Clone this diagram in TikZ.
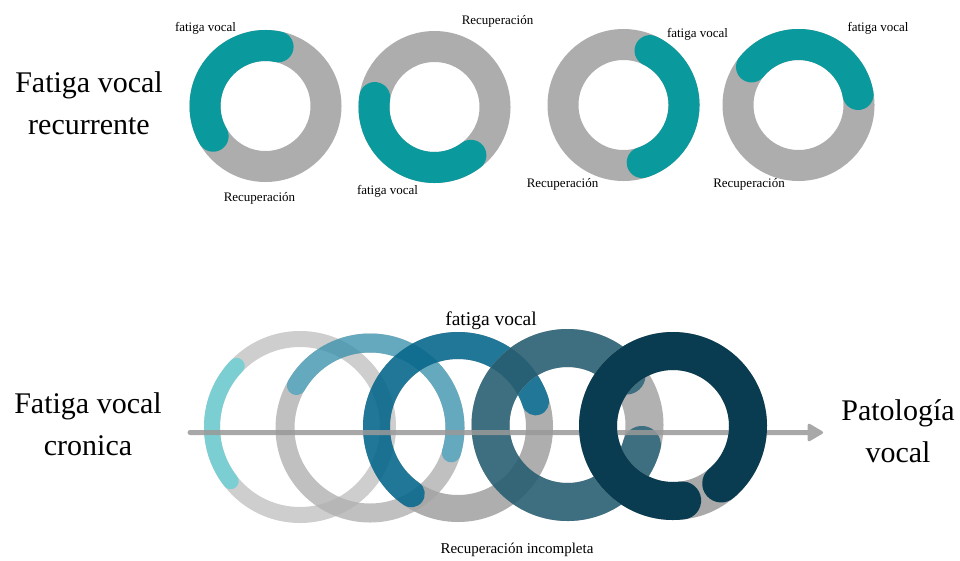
\documentclass[tikz,border=0pt]{standalone}
\usepackage{fontspec}
\setmainfont{Liberation Serif}
\usetikzlibrary{arrows.meta}

\definecolor{cyclegray}{HTML}{ADADAD}
\definecolor{cycleteal}{HTML}{0A9A9D}
\definecolor{oneGray}{HTML}{BDBDBD}
\definecolor{oneCyan}{HTML}{4FBFC4}
\definecolor{twoGray}{HTML}{B0B0B0}
\definecolor{twoTeal}{HTML}{3D93AD}
\definecolor{threeGray}{HTML}{A5A5A5}
\definecolor{threeBlue}{HTML}{08688C}
\definecolor{fourGray}{HTML}{A8A8A8}
\definecolor{fourSlate}{HTML}{285F72}
\definecolor{fiveGray}{HTML}{A9A9A9}
\definecolor{fiveNavy}{HTML}{0A3C51}
\definecolor{flowGray}{HTML}{999999}

\begin{document}
\begin{tikzpicture}[x=1pt,y=1pt,
  cyclering/.style={draw=cyclegray,line width=31pt},
  fatiguearc/.style={draw=cycleteal,line width=31pt,line cap=round},
  smalllbl/.style={font=\fontsize{13}{15}\selectfont,anchor=base,inner sep=0pt},
  % the base anchor of a two-line node sits on its last line
  biglbl/.style={font=\fontsize{30}{41.5}\selectfont,align=center,anchor=base,inner sep=0pt},
  flowarrow/.style={draw=flowGray,line width=5pt,line cap=round,line join=round,
    -{Triangle[length=17pt,width=19pt,line width=3pt,round]}}
]
\useasboundingbox (0,-560) rectangle (960,0);

% ---------- recurrent fatigue: four separate cycles ----------
\coordinate (t1) at (265.5,-106);
\coordinate (t2) at (434.5,-107);
\coordinate (t3) at (623.5,-105);
\coordinate (t4) at (798.5,-105);
\foreach \c in {t1,t2,t3,t4}
  \draw[cyclering] (\c) circle[radius=60.5];
\draw[fatiguearc] (t1) ++(78:60.5) arc[start angle=78,end angle=210,radius=60.5];
\draw[fatiguearc] (t2) ++(171:60.5) arc[start angle=171,end angle=307,radius=60.5];
\draw[fatiguearc] (t3) ++(-72:60.5) arc[start angle=-72,end angle=64,radius=60.5];
\draw[fatiguearc] (t4) ++(10:60.5) arc[start angle=10,end angle=141,radius=60.5];

\node[smalllbl] (f1) at (205.5,-31) {fatiga vocal};
\node[smalllbl] (r1) at (259.5,-201) {Recuperación};
\node[smalllbl] (r2) at (497.5,-24) {Recuperación};
\node[smalllbl] (f2) at (387.5,-194) {fatiga vocal};
\node[smalllbl] (f3) at (697.5,-37) {fatiga vocal};
\node[smalllbl] (r3) at (562.5,-187) {Recuperación};
\node[smalllbl] (f4) at (878,-31) {fatiga vocal};
\node[smalllbl] (r4) at (749,-187) {Recuperación};

\node[biglbl] (rec) at (89,-134) {Fatiga vocal\\recurrente};

% ---------- chronic fatigue: overlapping cycles ----------
\coordinate (b1) at (300,-427);
\coordinate (b2) at (370,-428);
\coordinate (b3) at (458,-427);
\coordinate (b4) at (567.5,-425);
\coordinate (b5) at (673,-426);

\begin{scope}[transparency group,opacity=0.75]
  \draw[oneGray,line width=16pt] (b1) circle[radius=88];
  \draw[oneCyan,line width=16pt,line cap=round] (b1) ++(136:88) arc[start angle=136,end angle=218,radius=88];
\end{scope}
\begin{scope}[transparency group,opacity=0.8]
  \draw[twoGray,line width=19pt] (b2) circle[radius=85];
  \draw[twoTeal,line width=19pt,line cap=round] (b2) ++(150:85) arc[start angle=150,end angle=-17,radius=85];
\end{scope}
\begin{scope}[transparency group,opacity=0.9]
  \draw[threeGray,line width=27pt] (b3) circle[radius=81.5];
  \draw[threeBlue,line width=27pt,line cap=round] (b3) ++(235:81.5) arc[start angle=235,end angle=18,radius=81.5];
\end{scope}
\begin{scope}[transparency group,opacity=0.9]
  \draw[fourGray,line width=38pt] (b4) circle[radius=77];
  \draw[fourSlate,line width=38pt,line cap=round] (b4) ++(40:77) arc[start angle=40,end angle=345,radius=77];
\end{scope}

% time axis towards pathology, under the last cycle
\coordinate (arrstart) at (190,-432.5);
\coordinate (arrend) at (823,-432.5);
\begin{scope}[transparency group,opacity=0.85]
  \draw[flowarrow] (arrstart) -- (arrend);
\end{scope}

\draw[fiveGray,line width=38pt] (b5) circle[radius=75];
\draw[fiveNavy,line width=38pt,line cap=round] (b5) ++(-50:75) arc[start angle=-50,end angle=277,radius=75];

\node[font=\fontsize{19.5}{22}\selectfont,anchor=base,inner sep=0pt] (fb) at (491,-325) {fatiga vocal};
\node[font=\fontsize{15}{18}\selectfont,anchor=base,inner sep=0pt] (ri) at (517,-553) {Recuperación incompleta};

\node[biglbl] (cro) at (88,-455) {Fatiga vocal\\cronica};
\node[biglbl] (pat) at (898,-462) {Patología\\vocal};
\end{tikzpicture}
\end{document}
